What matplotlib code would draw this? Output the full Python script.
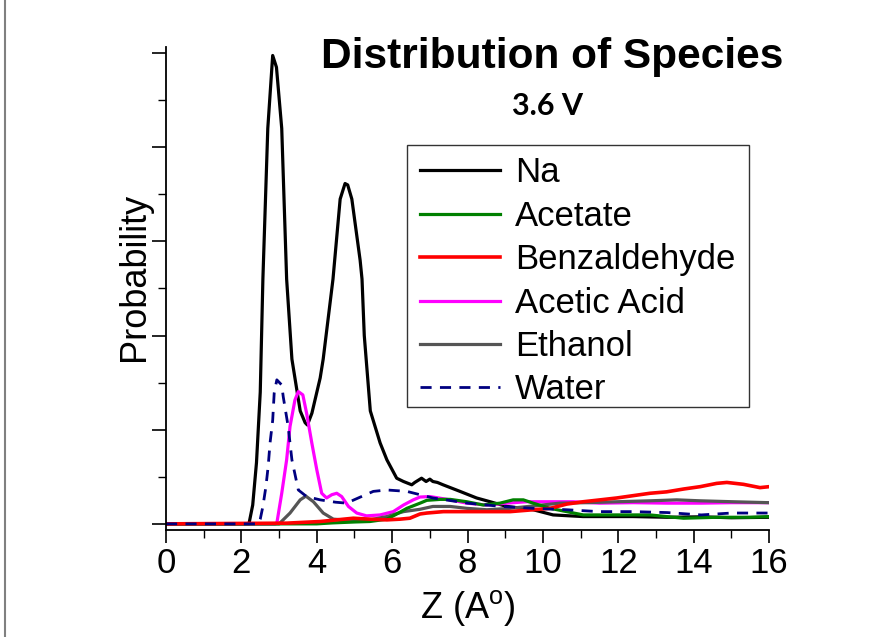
import matplotlib
matplotlib.use("agg")
import matplotlib.pyplot as plt
from matplotlib.lines import Line2D
from matplotlib.patches import Rectangle
from matplotlib.ticker import MultipleLocator

# Z (Angstrom) / probability (arbitrary units)
na_x = [0, 2.2, 2.3, 2.4, 2.5, 2.57, 2.7, 2.83, 2.93, 3.07, 3.2, 3.34, 3.56, 3.69, 3.75, 3.87,
        4.09, 4.17, 4.43, 4.62, 4.75, 4.82, 4.93, 5.15, 5.2, 5.26, 5.36, 5.42, 5.68, 5.86, 6.12,
        6.3, 6.52, 6.6, 6.78, 6.9, 7.0, 7.08, 7.2, 7.35, 7.8, 8.24, 8.6, 9.04, 9.74, 10.27, 11.06,
        12.39, 13.3, 14.2, 15.0, 16]
na_y = [0, 0, 0.4, 1.3, 2.8, 5.2, 8.4, 9.95, 9.7, 8.4, 5.2, 3.5, 2.4, 2.15, 2.1, 2.35,
        3.1, 3.5, 5.2, 6.9, 7.23, 7.2, 6.9, 5.6, 5.2, 4.0, 3.0, 2.4, 1.72, 1.36, 0.97,
        0.9, 0.83, 0.88, 0.97, 0.9, 0.95, 0.9, 0.88, 0.83, 0.69, 0.55, 0.47, 0.37, 0.3, 0.19, 0.155,
        0.155, 0.14, 0.15, 0.13, 0.14]

acetate_x = [0, 4.0, 4.4, 5.0, 5.41, 5.86, 6.1, 6.39, 6.74, 6.92, 7.27, 7.54, 7.98, 8.42, 8.86,
             9.21, 9.48, 9.74, 10.19, 10.63, 11.07, 11.96, 12.84, 13.28, 13.73, 14.61, 15.5, 16]
acetate_y = [0, 0, 0.02, 0.04, 0.05, 0.1, 0.2, 0.33, 0.44, 0.5, 0.52, 0.52, 0.47, 0.4, 0.44,
             0.51, 0.51, 0.44, 0.33, 0.26, 0.19, 0.19, 0.19, 0.155, 0.12, 0.14, 0.14, 0.155]

benz_x = [0, 3.2, 4.09, 4.53, 4.97, 5.41, 5.86, 6.21, 6.47, 6.74, 6.92, 7.36, 7.98, 8.51, 9.13,
          9.74, 10.19, 10.63, 11.07, 11.52, 11.96, 12.4, 12.84, 13.28, 13.73, 14.17, 14.61, 14.88,
          15.32, 15.76, 16]
benz_y = [0, 0.015, 0.05, 0.085, 0.12, 0.1, 0.085, 0.1, 0.12, 0.21, 0.23, 0.26, 0.26, 0.26, 0.26,
          0.3, 0.33, 0.42, 0.47, 0.51, 0.55, 0.6, 0.65, 0.68, 0.74, 0.79, 0.86, 0.88,
          0.84, 0.77, 0.79]

acetic_x = [0, 2.9, 2.94, 3.07, 3.2, 3.29, 3.42, 3.51, 3.63, 3.73, 3.87, 4.0, 4.13, 4.26, 4.4,
            4.53, 4.66, 4.84, 5.06, 5.32, 5.68, 6.03, 6.3, 6.56, 6.74, 7.0, 7.54, 7.98, 8.51,
            9.04, 9.57, 10.19, 10.8, 11.5, 12.4, 13.3, 14.2, 15.0, 16]
acetic_y = [0, 0, 0.015, 0.65, 1.36, 2.07, 2.63, 2.81, 2.74, 2.35, 1.71, 1.15, 0.65, 0.55, 0.62,
            0.65, 0.58, 0.37, 0.23, 0.17, 0.19, 0.26, 0.4, 0.51, 0.57, 0.58, 0.51, 0.44, 0.4,
            0.44, 0.47, 0.47, 0.47, 0.44, 0.45, 0.44, 0.44, 0.45, 0.45]

ethanol_x = [0, 3.0, 3.29, 3.56, 3.71, 3.91, 4.17, 4.44, 4.97, 5.41, 5.86, 6.3, 6.74, 7.08, 7.54,
             7.98, 8.51, 9.13, 9.74, 10.45, 11.16, 11.96, 12.85, 13.55, 14.17, 15.04, 16]
ethanol_y = [0, 0, 0.23, 0.51, 0.59, 0.47, 0.23, 0.1, 0.07, 0.085, 0.155, 0.26, 0.31, 0.37, 0.37,
             0.33, 0.3, 0.33, 0.38, 0.44, 0.45, 0.47, 0.49, 0.51, 0.49, 0.47, 0.45]

water_x = [0, 2.45, 2.5, 2.57, 2.65, 2.71, 2.76, 2.83, 2.87, 2.94, 3.07, 3.11, 3.24, 3.34, 3.51,
           3.73, 4.09, 4.5, 4.79, 5.1, 5.5, 5.86, 6.39, 7.08, 8.0, 8.9, 9.74, 10.63, 11.5, 12.4,
           13.3, 14.2, 15.0, 16]
water_y = [0, 0, 0.1, 0.37, 0.79, 1.22, 1.72, 2.2, 2.78, 3.06, 2.95, 2.7, 2.07, 1.36, 0.72,
           0.58, 0.51, 0.46, 0.44, 0.55, 0.69, 0.72, 0.69, 0.55, 0.44, 0.37, 0.33, 0.3, 0.26, 0.26,
           0.24, 0.19, 0.23, 0.23]

x_ticks = [0, 2, 4, 6, 8, 10, 12, 14, 16]


def main():
    plt.rcParams["font.family"] = ["Liberation Sans", "DejaVu Sans"]
    plt.rcParams["mathtext.default"] = "regular"

    fig = plt.figure(figsize=(8.85, 6.37), dpi=100)
    ax = fig.add_axes([0.1876, 0.1680, 0.6814, 0.7582])

    na, = ax.plot(na_x, na_y, color="black", lw=2.3, label="Na")
    acetic, = ax.plot(acetic_x, acetic_y, color="#ff00ff", lw=2.3, label="Acetic Acid")
    ethanol, = ax.plot(ethanol_x, ethanol_y, color="#555555", lw=2.3, label="Ethanol")
    acetate, = ax.plot(acetate_x, acetate_y, color="#008000", lw=2.3, label="Acetate")
    benz, = ax.plot(benz_x, benz_y, color="#ff0000", lw=2.6, label="Benzaldehyde")
    water, = ax.plot(water_x, water_y, color="#000080", lw=2.0, ls=(0, (4, 3)), label="Water")

    ax.set_xlim(0, 16)
    ax.set_ylim(-0.13, 10.13)
    ax.set_xticks(x_ticks)
    ax.xaxis.set_minor_locator(MultipleLocator(1))
    ax.yaxis.set_major_locator(MultipleLocator(2))
    ax.yaxis.set_minor_locator(MultipleLocator(1))
    ax.set_yticklabels([])
    ax.tick_params(axis="x", which="major", length=9, width=1.2, labelsize=25, pad=3)
    ax.tick_params(axis="x", which="minor", length=6, width=1.0)
    ax.tick_params(axis="y", which="major", length=10, width=1.2)
    ax.tick_params(axis="y", which="minor", length=6, width=1.0)
    for side in ("top", "right"):
        ax.spines[side].set_visible(False)
    for side in ("left", "bottom"):
        ax.spines[side].set_linewidth(1.3)

    ax.set_xlabel(r"Z (A$^{o}$)", fontsize=26, labelpad=6)
    ax.set_ylabel("Probability", fontsize=26)
    ax.yaxis.set_label_coords(-0.023, 0.524)

    # legend box drawn on its own so its padding matches the picture
    fig.add_artist(Rectangle((407 / 885, 1 - 407 / 637), 342 / 885, 262 / 637,
                             transform=fig.transFigure, facecolor="white",
                             edgecolor="#333333", lw=1.0))
    fig.legend(handles=[na, acetate, benz, acetic, ethanol, water],
               loc="upper left", bbox_to_anchor=(410 / 885, 1 - 146 / 637),
               borderaxespad=0, fontsize=25, borderpad=0.3, handlelength=2.3,
               handletextpad=0.43, labelspacing=0.3, frameon=False)

    fig.text(552 / 885, 1 - 57 / 637, "Distribution of Species", fontsize=30.5,
             fontweight="bold", ha="center", va="center")
    fig.text(547 / 885, 1 - 106 / 637, "3.6 V", fontsize=22, fontweight="bold",
             family=["Lato", "DejaVu Sans"], ha="center", va="center")

    fig.add_artist(Line2D([5 / 885, 5 / 885], [0, 1], transform=fig.transFigure,
                          color="#808080", lw=1.5))

    fig.savefig("out.png", dpi=100)
    plt.close(fig)


if __name__ == "__main__":
    main()
